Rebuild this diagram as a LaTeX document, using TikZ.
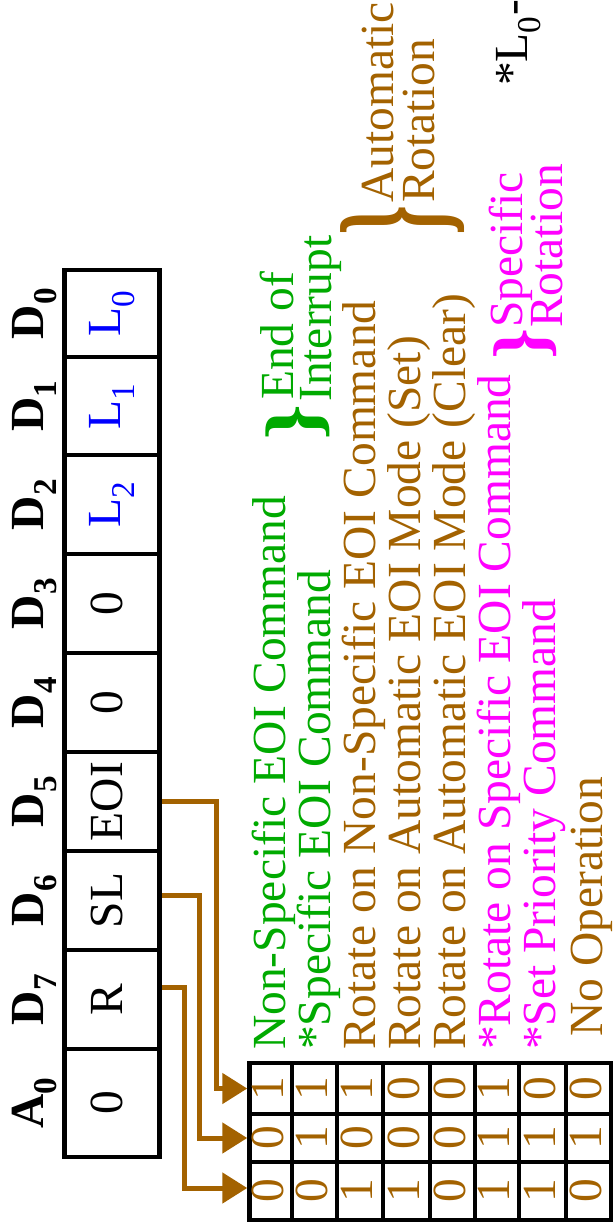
\documentclass[tikz,border=0pt]{standalone}
\usepackage{fontspec}
\setmainfont{Liberation Serif}
\usepackage{graphicx}
\usetikzlibrary{arrows.meta}
\definecolor{grn}{RGB}{0,170,0}
\definecolor{brn}{RGB}{163,98,0}
\definecolor{mag}{RGB}{255,0,255}
\definecolor{blu}{RGB}{0,0,255}
\newcommand{\rt}[2][10pt]{\rotatebox{90}{\raisebox{#1}{#2}}}
\newcommand{\brglyph}[2]{\rotatebox{90}{\resizebox*{#1}{#2}{\textbf{\}}}}}
\begin{document}
\begin{tikzpicture}[x=1pt,y=-1pt,
  bigfont/.style={font=\fontsize{47.5}{47.5}\selectfont},
  cell/.style={draw,line width=4.5pt,minimum width=95pt,inner sep=0pt,bigfont},
  hdr/.style={rotate=90,anchor=base,inner sep=0pt,font=\fontsize{47.5}{47.5}\selectfont\bfseries},
  txt/.style={rotate=90,anchor=base west,inner sep=0pt,bigfont},
  bit/.style={draw,line width=4.5pt,inner sep=0pt,text=brn,bigfont},
  arr/.style={draw=brn,line width=5pt,-{Triangle[length=25pt,width=30pt]}},
  brc/.style={inner sep=0pt,font=\fontsize{47.5}{47.5}\selectfont}]
\useasboundingbox (0,0) rectangle (613,1229);

% register cells
\node[cell,minimum height=87pt] (c0) at (112,313.5) {\rt{\textcolor{blu}{L\textsubscript{0}}}};
\node[cell,minimum height=98pt] (c1) at (112,406) {\rt{\textcolor{blu}{L\textsubscript{1}}}};
\node[cell,minimum height=99pt] (c2) at (112,504.5) {\rt{\textcolor{blu}{L\textsubscript{2}}}};
\node[cell,minimum height=99pt] (c3) at (112,603.5) {\rt{0}};
\node[cell,minimum height=99pt] (c4) at (112,702.5) {\rt{0}};
\node[cell,minimum height=99pt] (c5) at (112,801.5) {\rt{EOI}};
\node[cell,minimum height=99pt] (c6) at (112,900.5) {\rt{SL}};
\node[cell,minimum height=99pt] (c7) at (112,999.5) {\rt{R}};
\node[cell,minimum height=108pt] (ca) at (112,1103) {\rt{0}};

% headers
\node[hdr] (h0) at (43,313.5) {D\textsubscript{0}};
\node[hdr] (h1) at (43,406) {D\textsubscript{1}};
\node[hdr] (h2) at (43,504.5) {D\textsubscript{2}};
\node[hdr] (h3) at (43,603.5) {D\textsubscript{3}};
\node[hdr] (h4) at (43,702.5) {D\textsubscript{4}};
\node[hdr] (h5) at (43,801.5) {D\textsubscript{5}};
\node[hdr] (h6) at (43,900.5) {D\textsubscript{6}};
\node[hdr] (h7) at (43,999.5) {D\textsubscript{7}};
\node[hdr] (ha) at (43,1103) {A\textsubscript{0}};

% command texts
\node[txt,text=grn] (t1) at (285,1050) {Non-Specific EOI Command};
\node[txt,text=grn] (t2) at (330,1050) {*Specific EOI Command};
\node[txt,text=brn] (t3) at (375,1050) {Rotate on Non-Specific EOI Command};
\node[txt,text=brn] (t4) at (420,1050) {Rotate on Automatic EOI Mode (Set)};
\node[txt,text=brn] (t5) at (465,1050) {Rotate on Automatic EOI Mode (Clear)};
\node[txt,text=mag] (t6) at (510,1050) {*Rotate on Specific EOI Command};
\node[txt,text=mag] (t7) at (555,1050) {*Set Priority Command};
\node[txt,text=brn] (t8) at (602,1037) {No Operation};

% group labels
\node[txt,text=grn] (g1a) at (293,400) {End of};
\node[txt,text=grn] (g1b) at (331,402) {Interrupt};
\node[txt,text=brn] (g2a) at (393,203) {Automatic};
\node[txt,text=brn] (g2b) at (434,203) {Rotation};
\node[txt,text=mag] (g3a) at (522,328) {Specific};
\node[txt,text=mag] (g3b) at (562,328) {Rotation};
\node[txt] (note) at (527,86) {*L\textsubscript{0}-L\textsubscript{2}};

% braces
\node[brc,text=grn] (br1) at (297.5,422.5) {\brglyph{36pt}{64pt}};
\node[brc,text=brn] (br2) at (403,220) {\brglyph{30pt}{124pt}};
\node[brc,text=mag] (br3) at (525,344) {\brglyph{31pt}{63pt}};

% bit table
\foreach \cx/\w/\a/\b/\c [count=\j] in {270.75/42.5/1/0/0, 314.5/45/1/1/0, 360/46/1/0/1, 406.5/47/0/0/1, 452.5/45/0/0/0, 497/44/1/1/1, 542.5/47/0/1/1, 588.5/45/0/1/0}{
  \node[bit,minimum width=\w pt,minimum height=51pt] (b1-\j) at (\cx,1088.5) {\rt[6pt]{\a}};
  \node[bit,minimum width=\w pt,minimum height=48pt] (b2-\j) at (\cx,1138) {\rt[6pt]{\b}};
  \node[bit,minimum width=\w pt,minimum height=58pt] (b3-\j) at (\cx,1191) {\rt[6pt]{\c}};
}

% connectors
\draw[arr] (c5.east) -- ++(55,0) |- (b1-1.west);
\draw[arr] ([yshift=5pt]c6.east) -- ++(38,0) |- (b2-1.west);
\draw[arr] ([yshift=12pt]c7.east) -- ++(23,0) |- ([yshift=3pt]b3-1.west);
\end{tikzpicture}
\end{document}
